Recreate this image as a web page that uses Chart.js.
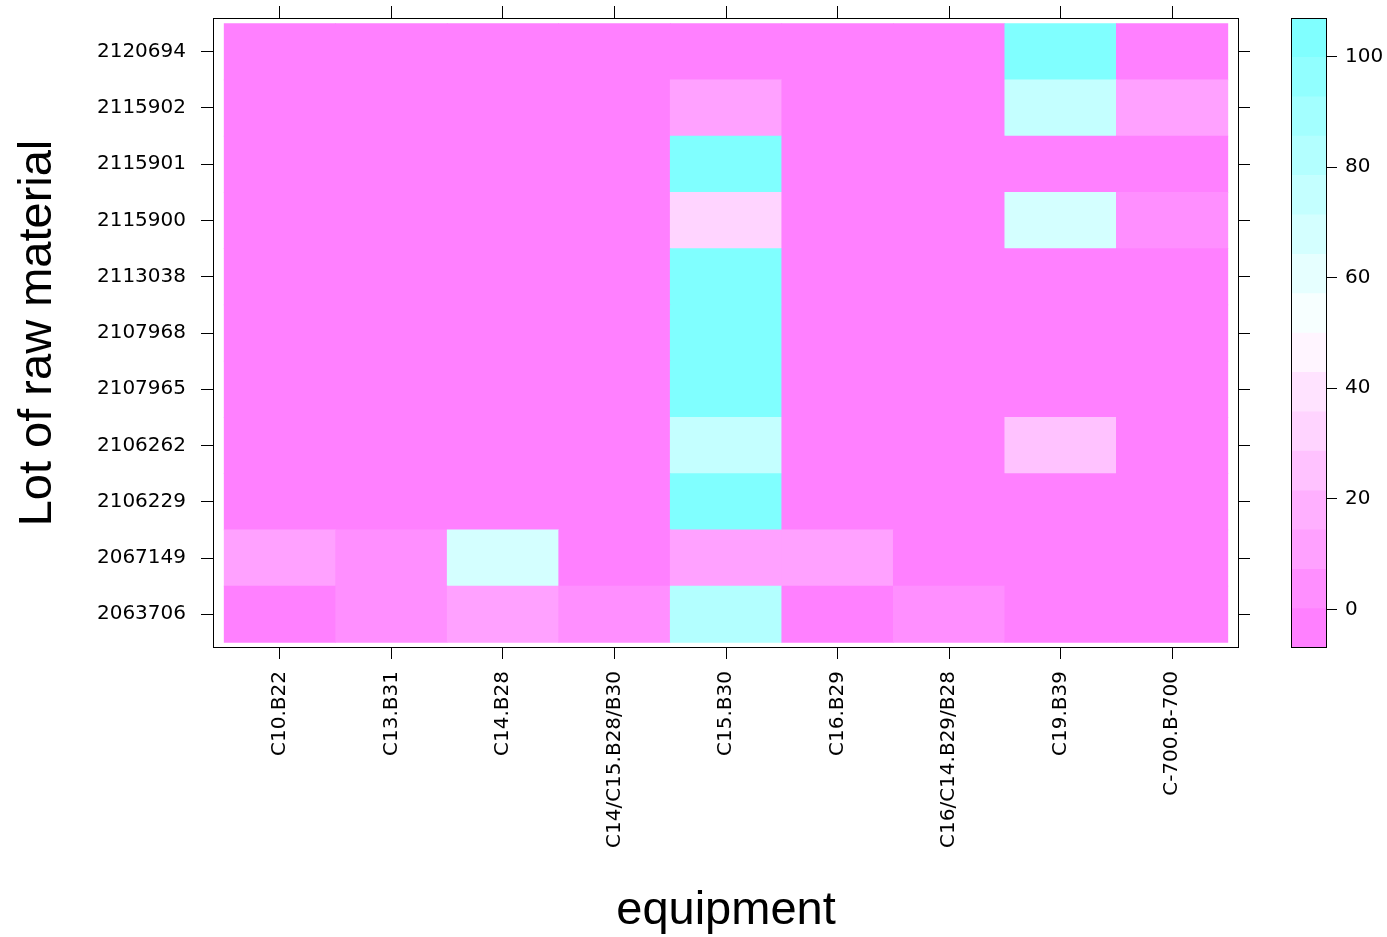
<!DOCTYPE html>
<html>
<head>
<meta charset="utf-8">
<title>Lot of raw material by equipment</title>
<script src="https://cdn.jsdelivr.net/npm/chart.js@4.4.1/dist/chart.umd.min.js"></script>
<style>
  html, body { margin: 0; padding: 0; background: #fff; }
  #wrap { position: relative; width: 1387px; height: 937px; }
  #heatmap { position: absolute; left: 0; top: 0; }
  #colorkey { position: absolute; left: 1250px; top: 0; }
</style>
</head>
<body>
<div id="wrap">
  <canvas id="heatmap" width="1250" height="937"></canvas>
  <canvas id="colorkey" width="137" height="937"></canvas>
</div>
<script>
// equipment along x, lots along y (bottom to top)
const equipment = ["C10.B22", "C13.B31", "C14.B28", "C14/C15.B28/B30", "C15.B30",
                   "C16.B29", "C16/C14.B29/B28", "C19.B39", "C-700.B-700"];
const lots = ["2063706", "2067149", "2106229", "2106262", "2107965", "2107968",
              "2113038", "2115900", "2115901", "2115902", "2120694"];

// share (%) of each lot per equipment, same order as equipment
const lot2063706 = [0, 3, 10, 3, 81, 0, 3, 0, 0];
const lot2067149 = [10, 3, 66, 0, 10, 11, 0, 0, 0];
const lot2106229 = [0, 0, 0, 0, 100, 0, 0, 0, 0];
const lot2106262 = [0, 0, 0, 0, 75, 0, 0, 25, 0];
const lot2107965 = [0, 0, 0, 0, 100, 0, 0, 0, 0];
const lot2107968 = [0, 0, 0, 0, 100, 0, 0, 0, 0];
const lot2113038 = [0, 0, 0, 0, 100, 0, 0, 0, 0];
const lot2115900 = [0, 0, 0, 0, 30, 0, 0, 66, 4];
const lot2115901 = [0, 0, 0, 0, 100, 0, 0, 0, 0];
const lot2115902 = [0, 0, 0, 0, 12, 0, 0, 76, 12];
const lot2120694 = [0, 0, 0, 0, 0, 0, 0, 100, 0];

const lotValues = [lot2063706, lot2067149, lot2106229, lot2106262, lot2107965, lot2107968,
                   lot2113038, lot2115900, lot2115901, lot2115902, lot2120694];

// colour key: 16 levels from -7 to 107
const keyMin = -7;
const keyMax = 107;
const keyCuts = 16;
const keyTicks = [0, 20, 40, 60, 80, 100];

const keyStep = (keyMax - keyMin) / keyCuts;
const keyBreaks = [];
for (let k = 0; k <= keyCuts; k++) keyBreaks.push(keyMin + k * keyStep);

// magenta -> white -> cyan, like rev(cm.colors(100)) sampled per level
function levelColor(k) {
    const idx = Math.floor(1 + 99 * k / (keyCuts - 1));
    let r = 255, g = 255;
    if (idx <= 50) {
        const s = 0.5 - (idx - 1) * 0.01;
        g = Math.round(255 * (1 - s));
    } else {
        const s = (idx - 50) * 0.01;
        r = Math.round(255 * (1 - s));
    }
    return `rgb(${r},${g},255)`;
}

function valueColor(v) {
    let k = Math.floor((v - keyMin) / keyStep);
    k = Math.max(0, Math.min(keyCuts - 1, k));
    return levelColor(k);
}

const tickFont = { family: "'DejaVu Sans', sans-serif", size: 20 };
const titleFont = { family: "'Liberation Sans', Arial, sans-serif", size: 47, lineHeight: 1 };

// draws a plain black box round the plot area
const framePlugin = {
    id: 'frame',
    afterDraw(chart) {
        const { ctx, chartArea } = chart;
        ctx.save();
        ctx.strokeStyle = '#000';
        ctx.lineWidth = 1;
        ctx.strokeRect(Math.round(chartArea.left) + 0.5, Math.round(chartArea.top) + 0.5,
                       Math.round(chartArea.right - chartArea.left) - 1,
                       Math.round(chartArea.bottom - chartArea.top) - 1);
        ctx.restore();
    }
};

function tickGrid(len) {
    return { drawOnChartArea: false, drawTicks: true, tickLength: len, color: '#000', lineWidth: 1, offset: false };
}

// fixed axis box sizes so the panel lands where it should
function fixSize(size) {
    return axis => {
        if (axis.isHorizontal()) axis.height = size; else axis.width = size;
        axis.paddingTop = 0;
        axis.paddingBottom = 0;
        axis.paddingLeft = 0;
        axis.paddingRight = 0;
    };
}

const heatDatasets = lots.map((lot, r) => ({
    label: lot,
    data: equipment.map((e, c) => ({ x: c + 1, y: [r + 0.5, r + 1.5] })),
    backgroundColor: ctx => valueColor(lotValues[r][ctx.dataIndex]),
    borderWidth: 0,
    grouped: false,
    barPercentage: 1,
    categoryPercentage: 1
}));

new Chart(document.getElementById('heatmap'), {
    type: 'bar',
    data: { datasets: heatDatasets },
    options: {
        responsive: false,
        animation: false,
        layout: { padding: 0 },
        plugins: { legend: { display: false }, tooltip: { enabled: false } },
        scales: {
            x: {
                type: 'linear', position: 'bottom', min: 0.4, max: 9.6, offset: false,
                afterBuildTicks: axis => { axis.ticks = equipment.map((e, i) => ({ value: i + 1 })); },
                afterFit: fixSize(937 - 648),
                ticks: { callback: (v, i) => equipment[i], minRotation: 90, maxRotation: 90,
                         autoSkip: false, padding: 12, color: '#000', font: tickFont },
                grid: tickGrid(11),
                border: { display: false },
                title: { display: true, text: 'equipment', color: '#000', font: titleFont,
                         padding: { top: 0, bottom: 2 } }
            },
            x2: {
                type: 'linear', position: 'top', min: 0.4, max: 9.6, offset: false,
                afterBuildTicks: axis => { axis.ticks = equipment.map((e, i) => ({ value: i + 1 })); },
                afterFit: fixSize(18),
                ticks: { display: false },
                grid: tickGrid(12),
                border: { display: false }
            },
            y: {
                type: 'linear', position: 'left', min: 0.4, max: 11.6,
                afterBuildTicks: axis => { axis.ticks = lots.map((l, i) => ({ value: i + 1 })); },
                afterFit: fixSize(213),
                ticks: { callback: (v, i) => lots[i], autoSkip: false, padding: 15,
                         color: '#000', font: tickFont },
                grid: tickGrid(12),
                border: { display: false },
                title: { display: true, text: 'Lot of raw material', color: '#000', font: titleFont,
                         padding: { top: 15, bottom: 0 } }
            },
            y2: {
                type: 'linear', position: 'right', min: 0.4, max: 11.6,
                afterBuildTicks: axis => { axis.ticks = lots.map((l, i) => ({ value: i + 1 })); },
                afterFit: fixSize(11),
                ticks: { display: false },
                grid: tickGrid(11),
                border: { display: false }
            }
        }
    },
    plugins: [framePlugin]
});

// colour key drawn as stacked floating bars on its own value axis
const keyDatasets = keyBreaks.slice(0, -1).map((b, k) => ({
    label: 'level ' + k,
    data: [[keyBreaks[k], keyBreaks[k + 1]]],
    backgroundColor: levelColor(k),
    borderWidth: 0,
    grouped: false,
    barPercentage: 1,
    categoryPercentage: 1
}));

new Chart(document.getElementById('colorkey'), {
    type: 'bar',
    data: { labels: [''], datasets: keyDatasets },
    options: {
        responsive: false,
        animation: false,
        layout: { padding: { left: 41, top: 18, bottom: 937 - 648, right: 0 } },
        plugins: { legend: { display: false }, tooltip: { enabled: false } },
        scales: {
            x: { display: false },
            y: {
                type: 'linear', position: 'right', min: keyMin, max: keyMax,
                afterBuildTicks: axis => { axis.ticks = keyTicks.map(v => ({ value: v })); },
                afterFit: fixSize(1387 - 1327),
                ticks: { padding: 8, color: '#000', font: tickFont },
                grid: { drawOnChartArea: false, drawTicks: true, tickLength: 10, color: '#000', lineWidth: 1 },
                border: { display: false }
            }
        }
    },
    plugins: [framePlugin]
});
</script>
</body>
</html>
